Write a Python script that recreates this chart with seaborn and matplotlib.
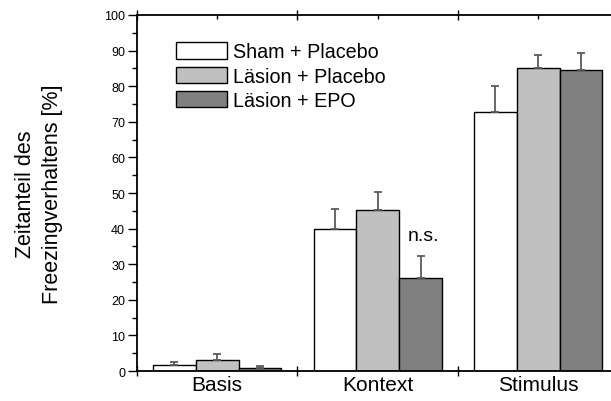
import matplotlib
matplotlib.use("Agg")
import matplotlib.pyplot as plt
from matplotlib.ticker import MultipleLocator, FixedLocator
import seaborn as sns
import pandas as pd

# Freezing behaviour per test phase and treatment group (mean and SEM, %)
phases = ["Basis", "Kontext", "Stimulus"]
groups = ["Sham + Placebo", "Läsion + Placebo", "Läsion + EPO"]
sham_placebo = [1.6, 40.0, 72.8]
laesion_placebo = [3.0, 45.3, 85.2]
laesion_epo = [0.75, 26.0, 84.5]
sem_sham_placebo = [0.9, 5.6, 7.2]
sem_laesion_placebo = [1.7, 5.1, 3.6]
sem_laesion_epo = [0.75, 6.4, 4.9]
bar_colors = ["#ffffff", "#c0c0c0", "#808080"]
annotation = "n.s."

means = [sham_placebo, laesion_placebo, laesion_epo]
sems = [sem_sham_placebo, sem_laesion_placebo, sem_laesion_epo]
df = pd.DataFrame(
    [(p, g, means[gi][pi]) for gi, g in enumerate(groups) for pi, p in enumerate(phases)],
    columns=["Phase", "Gruppe", "Freezing"],
)

sns.set_theme(style="white")
plt.rcParams["font.family"] = ["Liberation Sans", "DejaVu Sans"]
plt.rcParams.update({
    "text.color": "black",
    "axes.labelcolor": "black",
    "xtick.color": "black",
    "ytick.color": "black",
})

fig = plt.figure(figsize=(6.11, 4.02), dpi=100)
ax = fig.add_axes([0.2242, 0.0746, 0.788, 0.8856])

sns.barplot(
    data=df, x="Phase", y="Freezing", hue="Gruppe",
    order=phases, hue_order=groups, palette=bar_colors,
    width=0.8, errorbar=None, edgecolor="black", linewidth=1.0,
    saturation=1, ax=ax,
)

# upward-only SEM whiskers on top of every bar
for container, err in zip(ax.containers, sems):
    xs = [b.get_x() + b.get_width() / 2 for b in container]
    hs = [b.get_height() for b in container]
    ax.errorbar(xs, hs, yerr=[[0] * len(err), err], fmt="none",
                ecolor="#5a5a5a", elinewidth=1.3, capsize=2.6, capthick=1.3,
                zorder=1)

# significance note above the Kontext / Läsion + EPO bar
epo_bar = ax.containers[2][1]
ax.text(epo_bar.get_x() + epo_bar.get_width() / 2 + 0.02, 38, annotation,
        ha="center", va="center", fontsize=14, color="black")

ax.set_xlim(-0.5, 2.5)
ax.set_ylim(0, 100)
ax.set_xlabel("")
ax.set_ylabel("Zeitanteil des\nFreezingverhaltens [%]", fontsize=15.5,
              labelpad=30, linespacing=1.35, color="black")

# y axis: labelled ticks every 10, minor every 5, pointing outward
ax.yaxis.set_major_locator(MultipleLocator(10))
ax.yaxis.set_minor_locator(MultipleLocator(5))
ax.tick_params(axis="y", which="major", direction="out", length=6.5,
               width=1.0, labelsize=9, pad=2, left=True, right=False,
               color="black", labelcolor="black")
ax.tick_params(axis="y", which="minor", direction="out", length=3.6,
               width=1.0, left=True, right=False, color="black")

# x axis: group boundaries as crossing ticks, labels at group centres
ax.xaxis.set_major_locator(FixedLocator([-0.5, 0.5, 1.5, 2.5]))
ax.xaxis.set_minor_locator(FixedLocator([0, 1, 2]))
ax.set_xticklabels([])
ax.set_xticks([0, 1, 2], minor=True)
ax.set_xticklabels(phases, minor=True)
ax.tick_params(axis="x", which="major", direction="inout", length=7,
               width=1.0, bottom=True, top=True, labelbottom=False,
               color="black")
ax.tick_params(axis="x", which="minor", direction="in", length=3,
               width=1.0, bottom=True, top=True, labelsize=15, pad=3,
               color="black", labelcolor="black")

for side in ["left", "bottom", "top"]:
    ax.spines[side].set_visible(True)
    ax.spines[side].set_color("black")
    ax.spines[side].set_linewidth(1.3)
ax.spines["right"].set_visible(False)

handles, labels = ax.get_legend_handles_labels()
leg = ax.legend(handles, labels, loc="upper left", bbox_to_anchor=(0.08, 0.923),
                frameon=False, fontsize=14.2, handlelength=2.6, handleheight=0.9,
                handletextpad=0.3, labelspacing=0.26, borderpad=0, borderaxespad=0)
for t in leg.get_texts():
    t.set_color("black")

fig.savefig("out.png", dpi=100)
